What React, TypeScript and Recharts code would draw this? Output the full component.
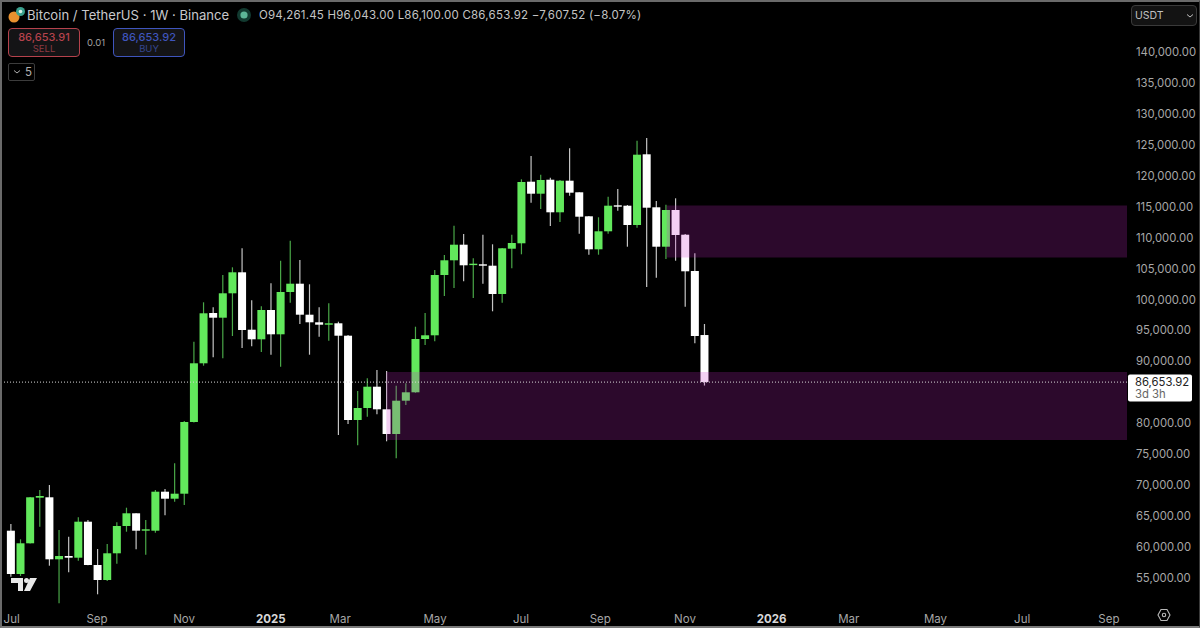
import {
  ComposedChart,
  Bar,
  XAxis,
  YAxis,
  ReferenceArea,
  ReferenceLine,
} from "recharts";

// weekly candles
const opens = [
  62642, 55645, 60606, 67975, 68039, 58020, 58553, 58279, 64096, 57099, 54675, 58990, 63401,
  65454, 62642, 62642, 68944, 67813, 68621, 80208, 89694, 97822, 97063, 101006, 104399, 95123,
  93572, 98307, 94380, 101216, 102557, 97547, 96319, 95931, 96158, 94154, 80531, 82470, 85912,
  82260, 78269, 83650, 85007, 93621, 94219, 103963, 106339, 108859, 105579, 105692, 105466,
  100893, 108213, 109086, 119040, 117101, 119363, 114095, 119202, 117328, 113449, 108116,
  111025, 115227, 115162, 112043, 123468, 114903, 108536, 114467, 110475, 104609, 94261,
];
const highs = [
  63725, 61252, 68088, 69219, 70027, 62755, 61672, 64807, 64371, 59685, 60493, 63999, 66359,
  65454, 64371, 69219, 69381, 73534, 80369, 93184, 99551, 98743, 103963, 105207, 108278, 99875,
  98905, 102622, 106274, 109506, 106387, 102460, 98743, 99390, 96416, 94267, 85217, 87270,
  88611, 88449, 86074, 86462, 95608, 97822, 104771, 107195, 111930, 110589, 106662, 110475,
  108924, 108326, 110475, 119428, 123193, 120171, 119687, 119315, 124438, 117328, 113497,
  113287, 116616, 117861, 115275, 125666, 126102, 115921, 115323, 116358, 110589, 107470, 96043,
];
const lows = [
  55208, 55321, 60574, 63288, 56986, 50910, 55919, 57794, 57050, 52364, 54513, 57309, 62480,
  59636, 58763, 62319, 65131, 67328, 66795, 80127, 89306, 90663, 90502, 94105, 92166, 92441,
  91520, 91083, 89144, 99487, 96045, 91083, 93992, 93346, 78107, 79885, 76443, 81064, 81452,
  77089, 74342, 82955, 84942, 92651, 93249, 100569, 101862, 102945, 100246, 102557, 98097,
  99487, 105046, 107308, 115647, 114629, 111881, 112528, 116778, 110637, 107243, 107243,
  110637, 114354, 108536, 111607, 102024, 103527, 106549, 106274, 98840, 92926, 86100,
];
const closes = [
  55645, 60606, 68039, 68249, 58020, 58553, 58279, 64096, 57099, 54675, 58990, 63401, 65454,
  62642, 62868, 68944, 67813, 68621, 80208, 89694, 97774, 97063, 101006, 104399, 95075, 93572,
  98307, 94380, 101216, 102557, 97547, 96319, 95931, 96158, 94154, 80531, 82470, 85912, 82260,
  78269, 83650, 85007, 93621, 94219, 103963, 106339, 108859, 105531, 105789, 105466, 100893,
  108278, 109134, 118992, 117101, 119315, 114095, 119202, 117263, 113384, 108116, 111025,
  115162, 115113, 112043, 123404, 114839, 108536, 114467, 110427, 104561, 94105, 86653.92,
];

// 85,000 sits under the last price tag, so it is left out
const priceTicks = [
  55000, 60000, 65000, 70000, 75000, 80000, 90000, 95000, 100000, 105000, 110000, 115000,
  120000, 125000, 130000, 135000, 140000,
];
const timeTicks = [0.1, 8.96, 18, 27, 34.2, 44.05, 52.97, 61.2, 70, 79, 87, 96, 105, 114];
const timeLabels = [
  "Jul", "Sep", "Nov", "2025", "Mar", "May", "Jul", "Sep", "Nov", "2026", "Mar", "May", "Jul", "Sep",
];

const lastPrice = 86653.92;
const upperZone = { from: 68.1, top: 115200, bottom: 106800 };
const lowerZone = { from: 39.0, top: 88300, bottom: 77300 };

const candles = opens.map((open, i) => ({
  idx: i,
  open,
  high: highs[i],
  low: lows[i],
  close: closes[i],
}));

const GREEN = "#62e85c";
const WHITE = "#ffffff";

const Candle = (props: any) => {
  const { x, y, width, height, payload } = props;
  const { open, high, low, close } = payload;
  const perPrice = height / (high - low);
  const yOf = (p: number) => y + (high - p) * perPrice;
  const up = close >= open;
  const top = yOf(Math.max(open, close));
  const bottom = yOf(Math.min(open, close));
  const cx = x + width / 2;
  return (
    <g>
      <line
        x1={cx}
        x2={cx}
        y1={y}
        y2={y + height}
        stroke={up ? "#4aa848" : "#c4c4c4"}
        strokeWidth={1.2}
      />
      <rect
        x={x}
        y={top}
        width={width}
        height={Math.max(bottom - top, 1.4)}
        fill={up ? GREEN : WHITE}
      />
    </g>
  );
};

const TimeTick = (props: any) => {
  const { x, y, index } = props;
  const label = timeLabels[index];
  const isYear = label.length === 4;
  return (
    <text
      x={x}
      y={y + 9}
      textAnchor="middle"
      fontSize={11.5}
      fontFamily="Inter, sans-serif"
      fontWeight={isYear ? 700 : 400}
      fill={isYear ? "#d8d8d8" : "#a6a6a6"}
    >
      {label}
    </text>
  );
};

const PriceTag = (props: any) => {
  const y = props.viewBox.y;
  return (
    <g fontFamily="Inter, sans-serif" fontSize={11.3}>
      <rect x={1128} y={y - 7.5} width={64} height={27} rx={2} fill="#ffffff" />
      <text x={1135} y={y + 3.5} fill="#222222">
        86,653.92
      </text>
      <text x={1135} y={y + 16} fill="#666666">
        3d 3h
      </text>
    </g>
  );
};

const label: React.CSSProperties = {
  position: "absolute",
  whiteSpace: "nowrap",
  fontFamily: "Inter, sans-serif",
};

const TradeButton = ({ left, price, side, color, dim }: any) => (
  <div
    style={{
      position: "absolute",
      left,
      top: 28,
      width: 72,
      height: 29,
      boxSizing: "border-box",
      border: `1px solid ${color}`,
      borderRadius: 4,
      background: "#141416",
      textAlign: "center",
      fontFamily: "Inter, sans-serif",
      lineHeight: "12px",
      paddingTop: 2,
    }}
  >
    <div style={{ fontSize: 11, color, fontWeight: 500 }}>{price}</div>
    <div style={{ fontSize: 9.5, color: dim }}>{side}</div>
  </div>
);

export default function App() {
  return (
    <div
      style={{
        position: "fixed",
        left: 0,
        top: 0,
        width: 1200,
        height: 628,
        background: "#000000",
        overflow: "hidden",
      }}
    >
      <ComposedChart width={1200} height={628} data={candles} margin={{ top: 0, right: 0, bottom: 0, left: 0 }}>
        <XAxis
          dataKey="idx"
          type="number"
          domain={[-1.11, 115.88]}
          ticks={timeTicks}
          interval={0}
          height={22}
          axisLine={false}
          tickLine={false}
          tick={<TimeTick />}
        />
        <YAxis
          orientation="right"
          type="number"
          domain={[50473, 148403]}
          ticks={priceTicks}
          interval={0}
          width={73}
          axisLine={false}
          tickLine={false}
          tick={{ fontSize: 11.3, fill: "#a8a8a8", fontFamily: "Inter, sans-serif", dx: 1 }}
          tickFormatter={(v: number) => v.toLocaleString("en-US") + ".00"}
        />
        <Bar
          dataKey={(d: any) => [d.low, d.high]}
          barSize={8}
          shape={<Candle />}
          isAnimationActive={false}
        />
        <ReferenceLine
          y={lastPrice}
          stroke="#d8d8d8"
          strokeDasharray="1 2"
          zIndex={700}
          label={<PriceTag />}
        />
        <ReferenceArea
          x1={upperZone.from}
          x2={115.88}
          y1={upperZone.bottom}
          y2={upperZone.top}
          fill="#c828c8"
          fillOpacity={0.22}
          stroke="none"
          zIndex={650}
        />
        <ReferenceArea
          x1={lowerZone.from}
          x2={115.88}
          y1={lowerZone.bottom}
          y2={lowerZone.top}
          fill="#c828c8"
          fillOpacity={0.22}
          stroke="none"
          zIndex={650}
        />
      </ComposedChart>

      {/* header */}
      <svg style={{ position: "absolute", left: 7, top: 6 }} width={20} height={18}>
        <circle cx={7} cy={11} r={5.5} fill="#e8912f" />
        <circle cx={13.5} cy={5.5} r={4.5} fill="#3aa08e" />
        <circle cx={13.5} cy={5.5} r={1.8} fill="#d8efe8" />
      </svg>
      <div style={{ ...label, left: 27, top: 7, fontSize: 13.1, color: "#c8c8cc" }}>
        Bitcoin / TetherUS · 1W · Binance
      </div>
      <svg style={{ position: "absolute", left: 236, top: 7 }} width={16} height={16}>
        <circle cx={8} cy={8} r={7} fill="#123a30" />
        <circle cx={8} cy={8} r={3.6} fill="#5cb597" />
      </svg>
      <div style={{ ...label, left: 259, top: 8, fontSize: 11.5, color: "#c4c4c4", letterSpacing: 0.22 }}>
        O94,261.45 H96,043.00 L86,100.00 C86,653.92 −7,607.52 (−8.07%)
      </div>
      <TradeButton left={8} price="86,653.91" side="SELL" color="#b5424c" dim="#8c3a42" />
      <div style={{ ...label, left: 87, top: 37, fontSize: 9.5, color: "#a0a0a0" }}>0.01</div>
      <TradeButton left={113} price="86,653.92" side="BUY" color="#3f55bd" dim="#34468e" />
      <div
        style={{
          ...label,
          left: 8,
          top: 63,
          width: 27,
          height: 18,
          boxSizing: "border-box",
          border: "1px solid #3c3c3c",
          borderRadius: 2,
          color: "#b0b0b0",
          fontSize: 11.5,
          lineHeight: "16px",
          paddingLeft: 16,
        }}
      >
        5
      </div>
      <svg style={{ position: "absolute", left: 13, top: 69 }} width={8} height={6}>
        <path d="M1 1.5 L4 4 L7 1.5" fill="none" stroke="#b0b0b0" strokeWidth={1} />
      </svg>

      {/* currency box */}
      <div
        style={{
          ...label,
          left: 1131,
          top: 5,
          width: 66,
          height: 21,
          boxSizing: "border-box",
          border: "1px solid #3a3a3a",
          borderRadius: 4,
          background: "#131313",
          color: "#c0c0c0",
          fontSize: 10.5,
          lineHeight: "19px",
          paddingLeft: 3,
        }}
      >
        USDT
      </div>
      <svg style={{ position: "absolute", left: 1186, top: 13 }} width={8} height={6}>
        <path d="M1 1.5 L4 4 L7 1.5" fill="none" stroke="#c0c0c0" strokeWidth={1} />
      </svg>

      {/* tradingview mark */}
      <svg style={{ position: "absolute", left: 10, top: 577 }} width={28} height={16}>
        <path d="M1 1 H13 V14 H8 V6 H1 Z" fill="#e8e8e8" />
        <circle cx={16.5} cy={3.5} r={2.5} fill="#e8e8e8" />
        <path d="M20 1 H27 L20 14 H14 Z" fill="#e8e8e8" />
      </svg>

      {/* settings */}
      <svg style={{ position: "absolute", left: 1157, top: 608 }} width={14} height={14}>
        <path d="M4 1.5 H10 L13 7 L10 12.5 H4 L1 7 Z" fill="none" stroke="#b8b8b8" strokeWidth={1.1} />
        <circle cx={7} cy={7} r={1.7} fill="none" stroke="#b8b8b8" strokeWidth={1.1} />
      </svg>

      {/* frame */}
      <div
        style={{
          position: "absolute",
          inset: 0,
          boxSizing: "border-box",
          borderTop: "2px solid #6a6a6a",
          borderLeft: "2px solid #6a6a6a",
          borderBottom: "2px solid #7a7a7a",
          borderRight: "1px solid #3a3a3a",
          pointerEvents: "none",
        }}
      />
    </div>
  );
}
